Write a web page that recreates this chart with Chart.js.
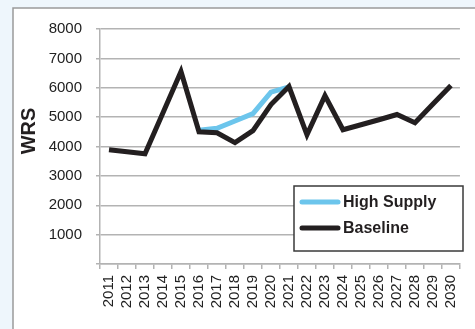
<!DOCTYPE html>
<html>
<head>
<meta charset="utf-8">
<script src="https://cdn.jsdelivr.net/npm/chart.js@4"></script>
<style>
html,body{margin:0;padding:0;background:#eef6fc;}
#wrap{width:475px;height:329px;position:relative;}
canvas{display:block;}
</style>
</head>
<body>
<div id="wrap"><canvas id="c" width="475" height="329"></canvas></div>
<script>
const categories = ["2011","2012","2013","2014","2015","2016","2017","2018","2019","2020","2021","2022","2023","2024","2025","2026","2027","2028","2029","2030"];
const highSupply = [null,null,null,null,null,4550,4620,4870,5120,5850,6030,null,null,null,null,null,null,null,null,null];
const baseline = [3890,3820,3750,5150,6550,4500,4470,4130,4540,5430,6040,4400,5730,4570,4740,4910,5090,4810,5450,6080];
const yTicks = [0,1000,2000,3000,4000,5000,6000,7000,8000];
const seriesNames = ["High Supply","Baseline"];
const axisTitle = "WRS";

const BLUE = "#6cc5ec";
const BLACK = "#231f20";
const GRID = "#b3b3b3";
const FONT = "'Liberation Sans', Arial, sans-serif";

const panelPlugin = {
  id: "panel",
  beforeDraw(chart) {
    const ctx = chart.ctx;
    ctx.save();
    ctx.fillStyle = "#eef6fc";
    ctx.fillRect(0, 0, chart.width, chart.height);
    ctx.fillStyle = "#ffffff";
    ctx.fillRect(13, 8, chart.width - 13, chart.height - 8);
    ctx.strokeStyle = "#9a9a9a";
    ctx.lineWidth = 1.5;
    ctx.beginPath();
    ctx.moveTo(13, chart.height);
    ctx.lineTo(13, 8);
    ctx.lineTo(chart.width, 8);
    ctx.stroke();
    ctx.restore();
  },
  afterDraw(chart) {
    const ctx = chart.ctx;
    ctx.save();
    // axis title
    ctx.translate(29, 131);
    ctx.rotate(-Math.PI / 2);
    ctx.font = "bold 20px " + FONT;
    ctx.fillStyle = BLACK;
    ctx.textAlign = "center";
    ctx.textBaseline = "middle";
    ctx.fillText(axisTitle, 0, 0);
    ctx.restore();

    // legend box
    ctx.save();
    const bx = 294, by = 186, bw = 169, bh = 65;
    ctx.fillStyle = "#fff";
    ctx.fillRect(bx, by, bw, bh);
    ctx.strokeStyle = "#3a3a3a";
    ctx.lineWidth = 1.5;
    ctx.strokeRect(bx, by, bw, bh);
    const ds = chart.data.datasets;
    const rows = [202, 228];
    ctx.font = "bold 16px " + FONT;
    ctx.textBaseline = "middle";
    ctx.textAlign = "left";
    ds.forEach((d, i) => {
      const y = rows[i];
      ctx.strokeStyle = d.borderColor;
      ctx.lineWidth = 5;
      ctx.lineCap = "round";
      ctx.beginPath();
      ctx.moveTo(302, y);
      ctx.lineTo(338, y);
      ctx.stroke();
      ctx.fillStyle = BLACK;
      ctx.fillText(d.label, 343, y + 1);
    });
    ctx.restore();
  }
};

new Chart(document.getElementById("c"), {
  type: "line",
  data: {
    labels: categories,
    datasets: [
      { label: seriesNames[0], data: highSupply, borderColor: BLUE, backgroundColor: BLUE, borderWidth: 5, pointRadius: 0, tension: 0, order: 1, borderJoinStyle: "miter", spanGaps: false },
      { label: seriesNames[1], data: baseline, borderColor: BLACK, backgroundColor: BLACK, borderWidth: 5, pointRadius: 0, tension: 0, order: 0, borderJoinStyle: "miter" }
    ]
  },
  options: {
    responsive: false,
    animation: false,
    events: [],
    layout: { padding: { top: 29, right: 2, left: 0, bottom: 0 } },
    plugins: { legend: { display: false }, tooltip: { enabled: false } },
    scales: {
      x: {
        offset: true,
        grid: { display: true, drawOnChartArea: false, drawTicks: true, tickLength: 5, color: GRID, lineWidth: 1.5, offset: true },
        border: { display: true, color: GRID, width: 1.5 },
        ticks: { minRotation: 90, maxRotation: 90, autoSkip: false, padding: 6, color: "#222", font: { family: FONT, size: 15 } },
        afterFit(s) { s.height = 65; }
      },
      y: {
        min: 0, max: 8000,
        afterBuildTicks(s) { s.ticks = yTicks.map(v => ({ value: v })); },
        grid: { color: GRID, lineWidth: 1.5, drawTicks: true, tickLength: 4, tickColor: GRID },
        border: { display: true, color: GRID, width: 1.5 },
        ticks: { padding: 14, color: "#222", font: { family: FONT, size: 15 }, callback: (v) => v === 0 ? "" : String(v) },
        afterFit(s) { s.width = 100; }
      }
    }
  },
  plugins: [panelPlugin]
});
</script>
</body>
</html>
